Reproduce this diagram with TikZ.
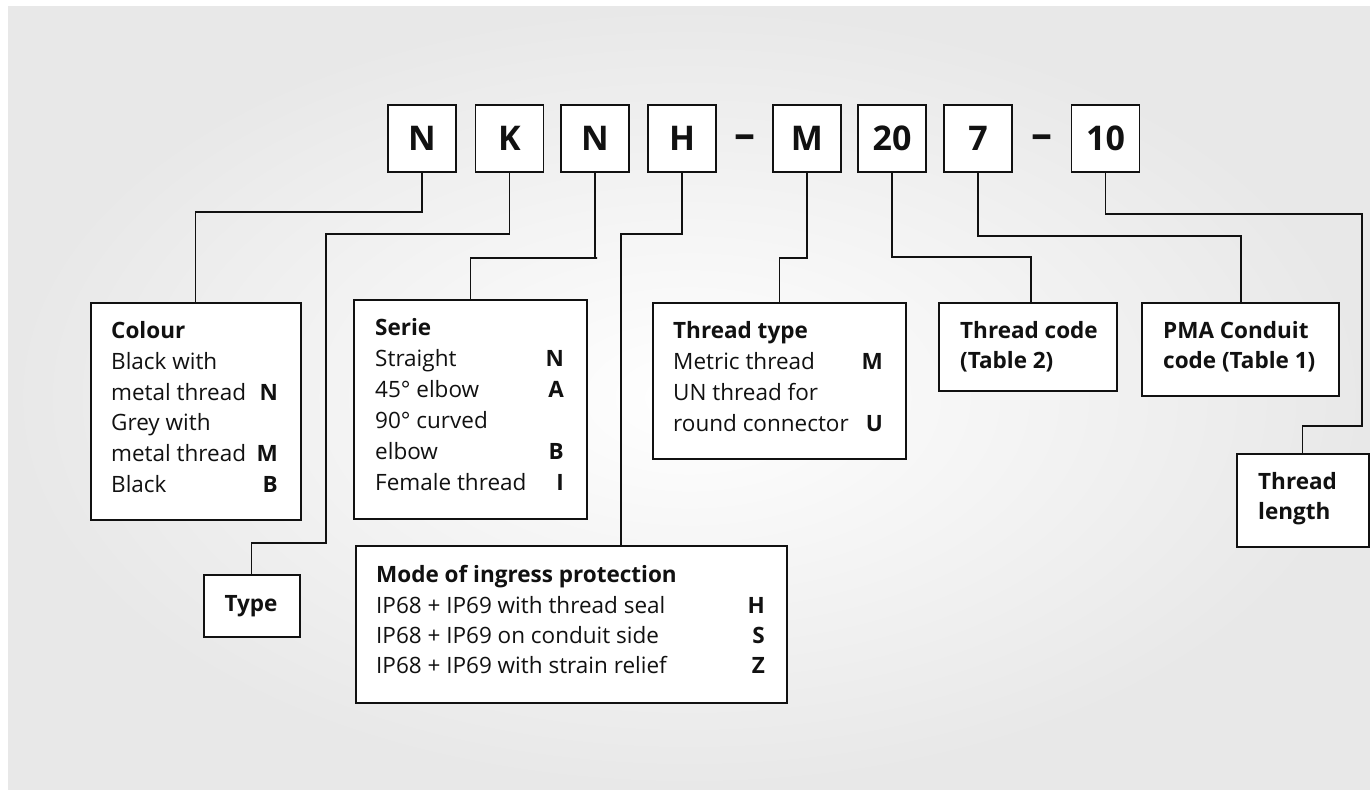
\documentclass[tikz,border=0pt]{standalone}
\usepackage{fontspec}
\setmainfont{Open Sans}
\definecolor{panelout}{HTML}{E8E8E8}
\definecolor{ink}{HTML}{111111}
\begin{document}
\begin{tikzpicture}[x=1pt,y=-1pt,
  topbox/.style={draw=ink, line width=1.5pt, fill=white, minimum width=68pt, minimum height=67pt, inner sep=0pt, font=\fontsize{34}{38}\selectfont\bfseries, text=ink},
  dashsym/.style={inner sep=0pt, font=\fontsize{42}{44}\selectfont\bfseries, text=ink},
  box/.style={draw=ink, line width=1.5pt, fill=white, inner sep=0pt, anchor=north west},
  lbl/.style={anchor=base west, inner sep=0pt, font=\fontsize{22.5}{26}\selectfont, text=ink},
  hd/.style={anchor=base west, inner sep=0pt, font=\fontsize{22.5}{26}\selectfont\bfseries, text=ink},
  code/.style={anchor=base east, inner sep=0pt, font=\fontsize{22.5}{26}\selectfont\bfseries, text=ink},
  conn/.style={draw=ink, line width=1.3pt}]
\useasboundingbox (0,0) rectangle (1370,796);
\fill[white] (0,0) rectangle (1370,796);
\shade[inner color=white, outer color=panelout] (8,6) rectangle (1370,789);

% top code boxes
\node[topbox] (n1) at (422,138.5) {N};
\node[topbox] (k) at (509.5,138.5) {K};
\node[topbox] (n2) at (595,138.5) {N};
\node[topbox] (h) at (682,138.5) {H};
\node[dashsym] (d1) at (745,142) {–};
\node[topbox] (m) at (807,138.5) {M};
\node[topbox] (t20) at (892,138.5) {20};
\node[topbox] (t7) at (978,138.5) {7};
\node[dashsym] (d2) at (1042,142) {–};
\node[topbox] (t10) at (1105.5,138.5) {10};

% description boxes
\node[box, minimum width=210pt, minimum height=217pt] (colour) at (90,302) {};
\node[box, minimum width=233pt, minimum height=219pt] (serie) at (353,299) {};
\node[box, minimum width=96pt, minimum height=62pt] (type) at (203,574) {};
\node[box, minimum width=431pt, minimum height=157pt] (mode) at (355,545) {};
\node[box, minimum width=253pt, minimum height=156pt] (ttype) at (652,302) {};
\node[box, minimum width=178pt, minimum height=88pt] (tcode) at (938,302) {};
\node[box, minimum width=197pt, minimum height=93pt] (pma) at (1141,302) {};
\node[box, minimum width=132pt, minimum height=93pt] (tlen) at (1236,453) {};

% connectors
\coordinate (c1) at (422,212);
\draw[conn] (n1.south) -- (c1) -| (colour.north);
\coordinate (k1) at (326,234);
\coordinate (k2) at (326,543);
\draw[conn] (k.south) |- (k1) -- (k2) -| (type.north);
\coordinate (s1) at (597,258);
\draw[conn] (n2.south) |- (s1) -| (serie.north);
\coordinate (h1) at (621,234);
\draw[conn] (h.south) |- (h1) -- (h1 |- mode.north);
\coordinate (m1) at (806,258);
\draw[conn] (m.south) |- (m1) -| (ttype.north);
\coordinate (p1) at (1031,257);
\draw[conn] (t20.south) |- (p1) -- (p1 |- tcode.north);
\coordinate (q1) at (1241,236);
\draw[conn] (t7.south) |- (q1) -- (q1 |- pma.north);
\coordinate (r1) at (1362,214);
\coordinate (r2) at (1362,426);
\draw[conn] (t10.south) |- (r1) -- (r2) -| (tlen.north);

% Colour text
\node[hd] (colh) at (111,338) {Colour};
\node[lbl] (col1) at (111,369) {Black with};
\node[lbl] (col2) at (111,400) {metal thread};
\node[code] (colN) at (278,400) {N};
\node[lbl] (col3) at (111,430) {Grey with};
\node[lbl] (col4) at (111,461) {metal thread};
\node[code] (colM) at (278,461) {M};
\node[lbl] (col5) at (111,492) {Black};
\node[code] (colB) at (278,492) {B};

% Serie text
\node[hd] (serh) at (375,335) {Serie};
\node[lbl] (ser1) at (375,366) {Straight};
\node[code] (serN) at (564,366) {N};
\node[lbl] (ser2) at (375,397) {45° elbow};
\node[code] (serA) at (564,397) {A};
\node[lbl] (ser3) at (375,428) {90° curved};
\node[lbl] (ser4) at (375,459) {elbow};
\node[code] (serB) at (564,459) {B};
\node[lbl] (ser5) at (375,490) {Female thread};
\node[code] (serI) at (564,490) {I};

% Type
\node[anchor=base, inner sep=0pt, font=\fontsize{22.5}{26}\selectfont\bfseries, text=ink] (typet) at (251,611) {Type};

% Mode text
\node[hd] (modh) at (376,582) {Mode of ingress protection};
\node[lbl] (mod1) at (376,613) {IP68 + IP69 with thread seal};
\node[code] (modH) at (765,613) {H};
\node[lbl] (mod2) at (376,643) {IP68 + IP69 on conduit side};
\node[code] (modS) at (765,643) {S};
\node[lbl] (mod3) at (376,673) {IP68 + IP69 with strain relief};
\node[code] (modZ) at (765,673) {Z};

% Thread type text
\node[hd] (tth) at (673,338) {Thread type};
\node[lbl] (tt1) at (673,369) {Metric thread};
\node[code] (ttM) at (883,369) {M};
\node[lbl] (tt2) at (673,400) {UN thread for};
\node[lbl] (tt3) at (673,431) {round connector};
\node[code] (ttU) at (883,431) {U};

% Thread code text
\node[hd] (tc1) at (960,338) {Thread code};
\node[hd] (tc2) at (960,368) {(Table 2)};

% PMA text
\node[hd] (pm1) at (1163,338) {PMA Conduit};
\node[hd] (pm2) at (1163,368) {code (Table 1)};

% Thread length text
\node[hd] (tl1) at (1258,489) {Thread};
\node[hd] (tl2) at (1258,519) {length};
\end{tikzpicture}
\end{document}
